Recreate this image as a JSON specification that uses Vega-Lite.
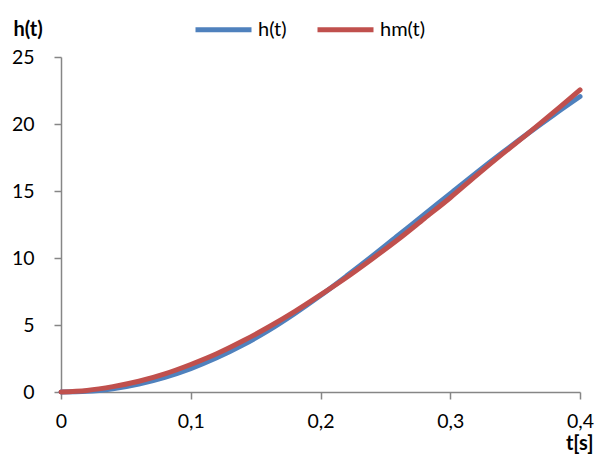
{
  "$schema": "https://vega.github.io/schema/vega-lite/v6.json",
  "width": 519,
  "height": 335,
  "autosize": {"type": "none"},
  "padding": {"left": 61, "top": 57, "right": 17, "bottom": 76},
  "background": "white",
  "config": {
    "view": {"stroke": null},
    "font": "Lato",
    "axis": {"grid": false, "domainColor": "#868686", "tickColor": "#868686", "domainWidth": 1.5, "tickWidth": 1.5, "tickSize": 7, "labelFont": "Lato", "labelFontSize": 19.5, "labelColor": "#000000", "titleFont": "Lato", "titleFontSize": 20, "titleColor": "#000000", "titleFontWeight": "bold"}
  },
  "data": {"values": [
    {"t": 0, "v": 0, "s": "h(t)"},
    {"t": 0.02, "v": 0.05, "s": "h(t)"},
    {"t": 0.04, "v": 0.25, "s": "h(t)"},
    {"t": 0.06, "v": 0.6, "s": "h(t)"},
    {"t": 0.08, "v": 1.1, "s": "h(t)"},
    {"t": 0.1, "v": 1.75, "s": "h(t)"},
    {"t": 0.12, "v": 2.55, "s": "h(t)"},
    {"t": 0.14, "v": 3.5, "s": "h(t)"},
    {"t": 0.16, "v": 4.6, "s": "h(t)"},
    {"t": 0.18, "v": 5.85, "s": "h(t)"},
    {"t": 0.2, "v": 7.2, "s": "h(t)"},
    {"t": 0.22, "v": 8.65, "s": "h(t)"},
    {"t": 0.24, "v": 10.15, "s": "h(t)"},
    {"t": 0.26, "v": 11.7, "s": "h(t)"},
    {"t": 0.28, "v": 13.25, "s": "h(t)"},
    {"t": 0.3, "v": 14.8, "s": "h(t)"},
    {"t": 0.32, "v": 16.35, "s": "h(t)"},
    {"t": 0.34, "v": 17.85, "s": "h(t)"},
    {"t": 0.36, "v": 19.3, "s": "h(t)"},
    {"t": 0.38, "v": 20.7, "s": "h(t)"},
    {"t": 0.4, "v": 22.05, "s": "h(t)"},
    {"t": 0, "v": 0, "s": "hm(t)"},
    {"t": 0.02, "v": 0.12, "s": "hm(t)"},
    {"t": 0.04, "v": 0.4, "s": "hm(t)"},
    {"t": 0.06, "v": 0.8, "s": "hm(t)"},
    {"t": 0.08, "v": 1.35, "s": "hm(t)"},
    {"t": 0.1, "v": 2.05, "s": "hm(t)"},
    {"t": 0.12, "v": 2.85, "s": "hm(t)"},
    {"t": 0.14, "v": 3.8, "s": "hm(t)"},
    {"t": 0.16, "v": 4.85, "s": "hm(t)"},
    {"t": 0.18, "v": 6.0, "s": "hm(t)"},
    {"t": 0.2, "v": 7.25, "s": "hm(t)"},
    {"t": 0.22, "v": 8.55, "s": "hm(t)"},
    {"t": 0.24, "v": 9.95, "s": "hm(t)"},
    {"t": 0.26, "v": 11.4, "s": "hm(t)"},
    {"t": 0.28, "v": 12.95, "s": "hm(t)"},
    {"t": 0.3, "v": 14.5, "s": "hm(t)"},
    {"t": 0.32, "v": 16.15, "s": "hm(t)"},
    {"t": 0.34, "v": 17.75, "s": "hm(t)"},
    {"t": 0.36, "v": 19.3, "s": "hm(t)"},
    {"t": 0.38, "v": 20.9, "s": "hm(t)"},
    {"t": 0.4, "v": 22.55, "s": "hm(t)"}
  ]},
  "mark": {"type": "line", "strokeWidth": 5, "interpolate": "monotone", "strokeCap": "round"},
  "encoding": {
    "x": {"field": "t", "type": "quantitative", "scale": {"domain": [0, 0.4], "nice": false}, "axis": {"values": [0, 0.1, 0.2, 0.3, 0.4], "labelExpr": "replace(format(datum.value, '~g'), '.', ',')", "labelPadding": 13, "labelFlush": false, "labelOverlap": false, "title": "t[s]", "titleAngle": 0, "titleAlign": "right", "titleBaseline": "alphabetic", "titleX": 532, "titleY": 57}},
    "y": {"field": "v", "type": "quantitative", "scale": {"domain": [0, 25], "nice": false}, "axis": {"values": [0, 5, 10, 15, 20, 25], "labelPadding": 20, "labelFlush": false, "title": "h(t)", "titleAngle": 0, "titleAlign": "left", "titleBaseline": "alphabetic", "titleX": -48, "titleY": -22}},
    "color": {"field": "s", "type": "nominal", "scale": {"domain": ["h(t)", "hm(t)"], "range": ["#4F81BD", "#C0504D"]}, "legend": {"title": null, "orient": "none", "direction": "horizontal", "legendX": 132, "legendY": -58, "padding": 0, "symbolType": "stroke", "symbolSize": 3136, "symbolStrokeWidth": 5, "labelFont": "Lato", "labelFontSize": 20, "labelColor": "#000000", "labelOffset": 4, "columnPadding": 20}}
  }
}
